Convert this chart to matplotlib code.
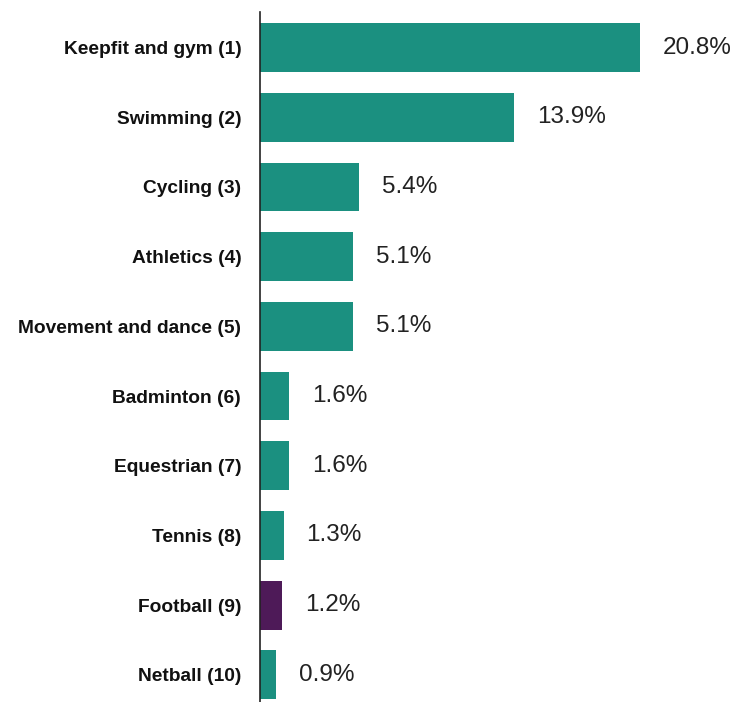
import matplotlib
matplotlib.use('Agg')
import matplotlib.pyplot as plt

categories = ['Keepfit and gym (1)', 'Swimming (2)', 'Cycling (3)', 'Athletics (4)',
              'Movement and dance (5)', 'Badminton (6)', 'Equestrian (7)', 'Tennis (8)',
              'Football (9)', 'Netball (10)']
values = [20.8, 13.9, 5.4, 5.1, 5.1, 1.6, 1.6, 1.3, 1.2, 0.9]
value_labels = ['20.8%', '13.9%', '5.4%', '5.1%', '5.1%', '1.6%', '1.6%', '1.3%', '1.2%', '0.9%']
highlight = 'Football (9)'

teal = '#1b9080'
purple = '#4e1a58'
colors = [purple if c == highlight else teal for c in categories]

fig = plt.figure(figsize=(7.36, 7.02), dpi=100)
ax = fig.add_axes([260 / 736, 0, 476 / 736, 690 / 702])

pos = list(range(len(categories)))
ax.barh(pos, values, height=0.7, color=colors)

for p, v, lab in zip(pos, values, value_labels):
    ax.text(v + 1.25, p, lab, va='center', ha='left', fontsize=17.5,
            family=['Liberation Sans', 'DejaVu Sans'], color='#222222')

ax.set_yticks(pos)
ax.set_yticklabels(categories, fontsize=13.8, fontweight='bold',
                   family=['Liberation Sans', 'DejaVu Sans'], color='#111111')
ax.tick_params(axis='y', length=0, pad=13.5)
ax.set_xticks([])
ax.set_xlim(0, 26.05)
ax.set_ylim(9.39, -0.51)

for s in ['top', 'right', 'bottom']:
    ax.spines[s].set_visible(False)
ax.spines['left'].set_color('#222222')
ax.spines['left'].set_linewidth(1.2)

fig.savefig('out.png', dpi=100)
